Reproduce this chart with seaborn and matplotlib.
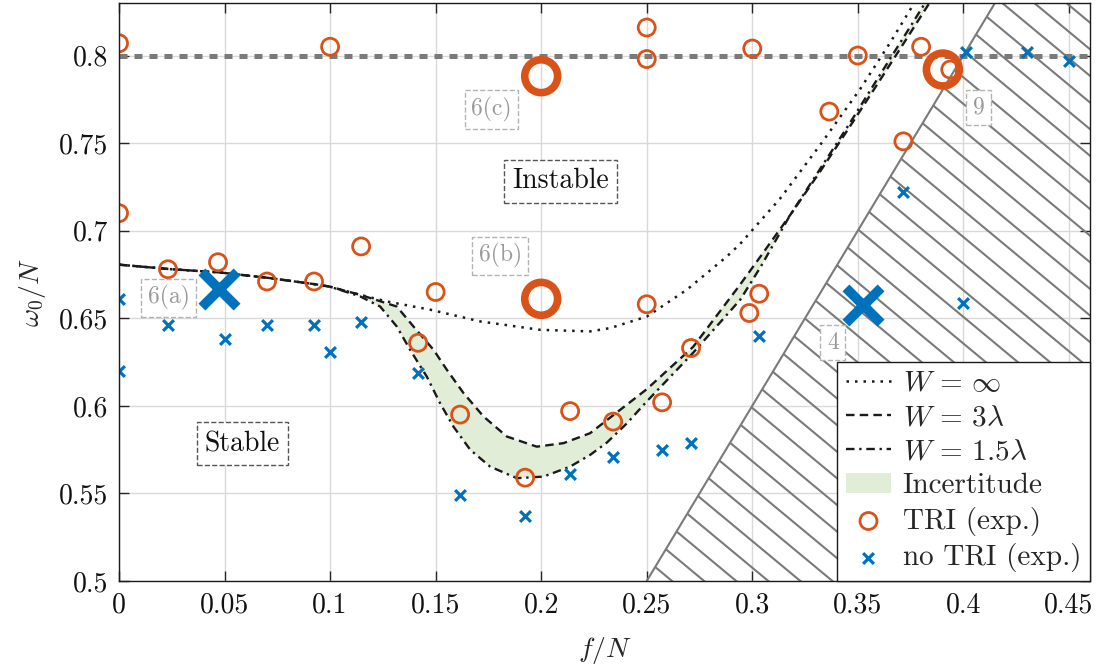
import numpy as np
import matplotlib
matplotlib.use("Agg")
import matplotlib.pyplot as plt
import seaborn as sns
from matplotlib.patches import Polygon

# --- seuils theoriques ---
f_inf = [0, 0.0237, 0.0474, 0.0711, 0.0948, 0.1, 0.1142, 0.1268, 0.1474, 0.1711,
         0.1995, 0.2232, 0.2327, 0.2501, 0.2690, 0.2880, 0.2943, 0.3133, 0.3322,
         0.3512, 0.3654, 0.3763]
w_inf = [0.6806, 0.6781, 0.6762, 0.6730, 0.6691, 0.6680, 0.6634, 0.6596, 0.6549, 0.6482,
         0.6434, 0.6425, 0.6444, 0.6510, 0.6663, 0.6853, 0.6925, 0.7185, 0.7490,
         0.7810, 0.8075, 0.8291]

f_3l = [0, 0.0237, 0.0474, 0.0711, 0.0948, 0.1, 0.1142, 0.1316, 0.1395, 0.1490, 0.1553,
        0.1632, 0.1727, 0.1837, 0.1979, 0.2106, 0.2232, 0.2313, 0.2500, 0.2720, 0.2935,
        0.3038, 0.3180, 0.3320, 0.3460, 0.3600, 0.3720, 0.3850]
w_3l = [0.6806, 0.6781, 0.6762, 0.6730, 0.6691, 0.6680, 0.6634, 0.6567, 0.6453, 0.6320, 0.6206,
        0.6073, 0.5939, 0.5825, 0.5767, 0.5787, 0.5844, 0.5920, 0.6095, 0.6337, 0.6680,
        0.6851, 0.7090, 0.7335, 0.7590, 0.7850, 0.8075, 0.8320]

f_15l = [0, 0.0237, 0.0474, 0.0711, 0.0948, 0.1, 0.1142, 0.1237, 0.1316, 0.1379, 0.1458,
         0.1521, 0.1584, 0.1664, 0.1758, 0.1885, 0.2011, 0.2137, 0.2232, 0.2311, 0.2406,
         0.2500, 0.2720, 0.2943, 0.3038, 0.3180, 0.3320, 0.3460, 0.3600, 0.3720, 0.3850]
w_15l = [0.6806, 0.6781, 0.6762, 0.6730, 0.6691, 0.6680, 0.6625, 0.6567, 0.6453, 0.6320, 0.6167,
         0.6015, 0.5882, 0.5749, 0.5653, 0.5587, 0.5596, 0.5653, 0.5720, 0.5790, 0.5900,
         0.6025, 0.6303, 0.6606, 0.6790, 0.7090, 0.7350, 0.7610, 0.7880, 0.8110, 0.8360]

# --- limite omega0 = 2f (zone hachuree) ---
f_lim = [0.25, 0.415]
w_lim = [0.5, 0.83]

# --- experiences ---
f_tri = [0, 0, 0.0232, 0.0469, 0.0701, 0.0924, 0.1, 0.1147, 0.1417, 0.15, 0.1616, 0.1924,
         0.2137, 0.2341, 0.25, 0.25, 0.25, 0.2573, 0.271, 0.2986, 0.3, 0.3033, 0.3365,
         0.35, 0.3716, 0.38, 0.3938]
w_tri = [0.807, 0.710, 0.678, 0.682, 0.671, 0.671, 0.805, 0.691, 0.636, 0.665, 0.595, 0.559,
         0.597, 0.591, 0.816, 0.798, 0.658, 0.602, 0.633, 0.653, 0.804, 0.664, 0.768,
         0.800, 0.751, 0.805, 0.792]

f_notri = [0, 0, 0.0232, 0.05, 0.0701, 0.0924, 0.1, 0.1147, 0.1417, 0.1616, 0.1924, 0.2137,
           0.2341, 0.2573, 0.271, 0.3033, 0.3716, 0.4, 0.4014, 0.4303, 0.45]
w_notri = [0.661, 0.620, 0.646, 0.638, 0.646, 0.646, 0.631, 0.648, 0.619, 0.549, 0.537, 0.561,
           0.571, 0.575, 0.579, 0.640, 0.722, 0.659, 0.802, 0.802, 0.797]

# cas montres dans les figures 6, 9
f_tri_big = [0.2, 0.2, 0.3903]
w_tri_big = [0.7882, 0.6611, 0.792]
f_notri_big = [0.0474, 0.3527]
w_notri_big = [0.6667, 0.6577]

labels_txt = ["6(a)", "6(b)", "6(c)", "9", "4"]
labels_f = [0.0235, 0.1806, 0.1765, 0.4073, 0.3382]
labels_w = [0.6617, 0.6857, 0.7691, 0.7703, 0.636]

xticks = [0, 0.05, 0.1, 0.15, 0.2, 0.25, 0.3, 0.35, 0.4, 0.45]
xtick_labels = ["0", "0.05", "0.1", "0.15", "0.2", "0.25", "0.3", "0.35", "0.4", "0.45"]
yticks = [0.5, 0.55, 0.6, 0.65, 0.7, 0.75, 0.8]
ytick_labels = ["0.5", "0.55", "0.6", "0.65", "0.7", "0.75", "0.8"]

orange = "#D95319"
blue = "#0072BD"
green = "#E2EDD7"
gray = "#7a7a7a"

sns.set_theme(style="whitegrid")
plt.rcParams["font.family"] = "serif"
plt.rcParams["font.serif"] = ["cmr10", "DejaVu Serif"]
plt.rcParams["mathtext.fontset"] = "cm"
plt.rcParams["axes.unicode_minus"] = False
plt.rcParams["axes.formatter.use_mathtext"] = True

fig = plt.figure(figsize=(10.99, 6.64), dpi=100)
ax = fig.add_axes([0.1083, 0.125, 0.8835, 0.8705])
xmax = 0.46
ax.set_xlim(0, xmax)
ax.set_ylim(0.5, 0.83)

# zone hachuree
region = Polygon(list(zip(f_lim + [xmax, xmax], w_lim + [0.83, 0.5])), closed=True,
                 fc="none", ec="none", transform=ax.transData)
ax.add_patch(region)
for c in np.arange(1.0812 - 30 * 0.0152, 1.0812 + 25 * 0.0152, 0.0152):
    hl, = ax.plot([0.2, 0.5], [c - 0.2, c - 0.5], color=gray, lw=1.5, zorder=1.5)
    hl.set_clip_path(region)
sns.lineplot(x=f_lim, y=w_lim, ax=ax, color=gray, lw=1.5, sort=False, estimator=None, zorder=1.6)

ax.axhline(0.8, color=gray, lw=3.6, ls=(0, (1.6, 1.4)), zorder=1.7)

# incertitude entre W=3lambda et W=1.5lambda
band = ax.fill(np.r_[f_3l, f_15l[::-1]], np.r_[w_3l, w_15l[::-1]], color=green, lw=0,
               zorder=1.8, label="Incertitude")[0]

lab_inf = r"$W\,=\,\infty$"
lab_3l = r"$W\,=\,3\lambda$"
lab_15l = r"$W\,=\,1.5\lambda$"
sns.lineplot(x=f_inf, y=w_inf, ax=ax, color="k", lw=1.8, ls=(0, (1, 2.4)), sort=False,
             estimator=None, label=lab_inf, zorder=3)
sns.lineplot(x=f_3l, y=w_3l, ax=ax, color="k", lw=1.7, ls=(0, (3.6, 2.2)), sort=False,
             estimator=None, label=lab_3l, zorder=3)
sns.lineplot(x=f_15l, y=w_15l, ax=ax, color="k", lw=1.7, ls=(0, (3.6, 2.0, 1, 2.0)), sort=False,
             estimator=None, label=lab_15l, zorder=3)

sns.scatterplot(x=f_tri, y=w_tri, ax=ax, marker="o", s=150, facecolor="none", edgecolor=orange,
                linewidth=2, label="TRI (exp.)", zorder=4)
sns.scatterplot(x=f_notri, y=w_notri, ax=ax, marker="x", s=60, color=blue, linewidth=2.3,
                label="no TRI (exp.)", zorder=4)
sns.scatterplot(x=f_tri_big, y=w_tri_big, ax=ax, marker="o", s=560, facecolor="none",
                edgecolor=orange, linewidth=5.5, zorder=4)
sns.scatterplot(x=f_notri_big, y=w_notri_big, ax=ax, marker="x", s=640, color=blue,
                linewidth=7, zorder=4)

for t, fx, wy in zip(labels_txt, labels_f, labels_w):
    ax.text(fx, wy, t, ha="center", va="center", fontsize=17, color="#999999", zorder=5,
            bbox=dict(boxstyle="square,pad=0.28", fc="white", ec="#b3b3b3", ls="--", lw=1))
ax.text(0.209, 0.7283, "Instable", ha="center", va="center", fontsize=20, color="#111111",
        zorder=5, bbox=dict(boxstyle="square,pad=0.3", fc="white", ec="#555555", ls="--", lw=1))
ax.text(0.0585, 0.5783, "Stable", ha="center", va="center", fontsize=20, color="#111111",
        zorder=5, bbox=dict(boxstyle="square,pad=0.3", fc="white", ec="#555555", ls="--", lw=1))

ax.set_xticks(xticks)
ax.set_xticklabels(xtick_labels)
ax.set_yticks(yticks)
ax.set_yticklabels(ytick_labels)
ax.tick_params(direction="in", length=7, width=1, color="#262626", labelsize=20,
               bottom=True, left=True, top=True, right=True, pad=8, labelcolor="#111111")
ax.grid(True, color="#d9d9d9", lw=1)
ax.set_axisbelow(True)
for sp in ax.spines.values():
    sp.set_color("#1a1a1a")
    sp.set_linewidth(1.0)
    sp.set_zorder(6)

ax.set_xlabel(r"$f/N$", fontsize=20, labelpad=12)
ax.set_ylabel(r"$\omega_0/N$", fontsize=20, labelpad=8)

handles, labs = ax.get_legend_handles_labels()
order = [lab_inf, lab_3l, lab_15l, "Incertitude", "TRI (exp.)", "no TRI (exp.)"]
hmap = dict(zip(labs, handles))
leg = ax.legend([hmap[k] for k in order], order, loc="lower right", fontsize=21,
                frameon=True, fancybox=False, framealpha=1, edgecolor="#1a1a1a",
                borderaxespad=0, handlelength=1.55, handletextpad=0.4, labelspacing=0.26,
                borderpad=0.3, scatterpoints=1)
leg.get_frame().set_linewidth(1.0)
leg.set_zorder(10)

fig.savefig("out.png", dpi=100)
